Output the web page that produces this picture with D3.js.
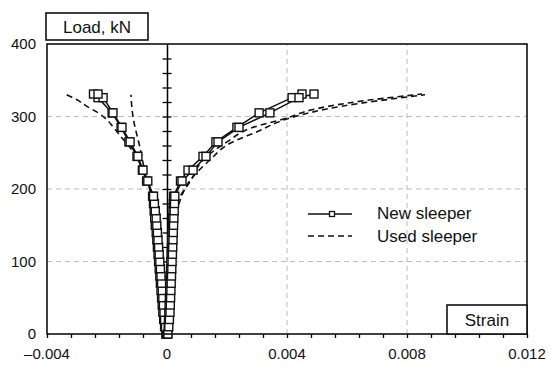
<!DOCTYPE html>
<html>
<head>
<meta charset="utf-8">
<script src="https://d3js.org/d3.v7.min.js"></script>
<style>
  html, body { margin: 0; background: #fff; }
  text { font-family: "Liberation Sans", Arial, sans-serif; fill: #111; }
</style>
</head>
<body>
<svg id="svg"></svg>
<script>
// load steps for the new sleeper gauges (kN)
const loadNew = [0,10,20,30,40,50,60,70,80,90,100,110,120,130,140,150,160,170,180,190,211,226,245,265,285,305,326,331];
const newL1 = [-0.00004,-0.00008,-0.00011,-0.00014,-0.00016,-0.00018,-0.0002,-0.00022,-0.00024,-0.00026,-0.00028,-0.0003,-0.00032,-0.00034,-0.00036,-0.00039,-0.00041,-0.00043,-0.00045,-0.00048,-0.00068,-0.00082,-0.001,-0.00127,-0.00153,-0.00183,-0.0023,-0.00245];
const newL2 = [-0.00002,-0.00005,-0.00008,-0.0001,-0.00012,-0.00014,-0.00016,-0.00018,-0.0002,-0.00022,-0.00024,-0.00026,-0.00028,-0.0003,-0.00032,-0.00034,-0.00036,-0.00039,-0.00042,-0.00045,-0.00064,-0.0008,-0.00097,-0.00123,-0.0015,-0.0018,-0.00213,-0.0023];
const newR1 = [0.00002,0.00004,0.00005,0.00006,0.00007,0.00008,0.00009,0.0001,0.00011,0.00012,0.00013,0.00014,0.00015,0.00016,0.00017,0.00018,0.00019,0.0002,0.00021,0.00022,0.00045,0.0007,0.0012,0.00163,0.00233,0.00307,0.00417,0.0045];
const newR2 = [0.00003,0.00006,0.00008,0.0001,0.00011,0.00012,0.00013,0.00014,0.00015,0.00016,0.00017,0.00018,0.00019,0.0002,0.00021,0.00022,0.00023,0.00024,0.00025,0.00026,0.0005,0.00087,0.0013,0.0017,0.0024,0.00343,0.0044,0.0049];

// used sleeper gauges
const usedL1Load = [0,50,100,150,190,226,250,274,286,298,306,313,323,331];
const usedL1 = [-0.00003,-0.00012,-0.00024,-0.00038,-0.0005,-0.0008,-0.0011,-0.00157,-0.0018,-0.00207,-0.00233,-0.00263,-0.003,-0.0034];
const usedL2Load = [0,50,100,157,199,236,257,274,292,312,330];
const usedL2 = [-0.00003,-0.00012,-0.00022,-0.0004,-0.00057,-0.0008,-0.0009,-0.001,-0.0011,-0.00117,-0.0012];
const usedR1Load = [0,50,100,150,189,212,240,265,284,298,309,319,331];
const usedR1 = [0.00002,0.00008,0.00014,0.0002,0.00043,0.0008,0.0012,0.002,0.0028,0.004,0.0048,0.0061,0.0085];
const usedR2Load = [0,50,100,150,180,212,240,263,279,298,314,330];
const usedR2 = [0.00002,0.0001,0.00017,0.00024,0.0004,0.00077,0.00143,0.0021,0.003,0.0041,0.0058,0.0086];

const xTicks = [-0.004, 0, 0.004, 0.008, 0.012];
const xTickLabels = ["\u20130.004", "0", "0.004", "0.008", "0.012"];
const yTicks = [0, 100, 200, 300, 400];
const legendNames = ["New sleeper", "Used sleeper"];

const W = 551, H = 365;
const m = {top: 44, left: 47, right: 24, bottom: 31};

const svg = d3.select("#svg").attr("width", W).attr("height", H);

const x = d3.scaleLinear().domain([-0.004, 0.012]).range([m.left, W - m.right]);
const y = d3.scaleLinear().domain([0, 400]).range([H - m.bottom, m.top]);

const zip = (loads, strains) => loads.map((l, i) => [strains[i], l]);

// grid
const grid = svg.append("g").attr("stroke", "#bbb").attr("stroke-dasharray", "5,4").attr("stroke-width", 1);
[100, 200, 300].forEach(v => grid.append("line")
  .attr("x1", x(-0.004)).attr("x2", x(0.012)).attr("y1", y(v)).attr("y2", y(v)));
[0.004, 0.008].forEach(v => grid.append("line")
  .attr("x1", x(v)).attr("x2", x(v)).attr("y1", y(0)).attr("y2", y(400)));

// centre axis with cross ticks
const cAxis = svg.append("g").attr("transform", `translate(${x(0)},0)`)
  .call(d3.axisLeft(y).tickValues(d3.range(20, 400, 20)).tickSizeInner(9).tickSizeOuter(0).tickFormat(""));
cAxis.selectAll(".tick line").attr("transform", "translate(4.5,0)").attr("stroke-width", 1.3);
cAxis.select(".domain").attr("stroke-width", 1.5);

// bottom axis
const bAxis = svg.append("g").attr("transform", `translate(0,${y(0)})`)
  .call(d3.axisBottom(x).tickValues(d3.range(-0.004, 0.0121, 0.0008)).tickSize(4).tickFormat(""));
bAxis.select(".domain").remove();
bAxis.selectAll(".tick line").attr("stroke-width", 1.3);

svg.append("g").selectAll("text").data(xTicks).join("text")
  .attr("x", d => x(d)).attr("y", 359).attr("text-anchor", "middle")
  .style("font-size", "15px").text((d, i) => xTickLabels[i]);

svg.append("g").selectAll("text").data(yTicks).join("text")
  .attr("x", 36).attr("y", d => y(d) + 5).attr("text-anchor", "end")
  .style("font-size", "15px").text(d => d);

// used sleeper (dashed)
const line = d3.line().x(d => x(d[0])).y(d => y(d[1]));
const smooth = d3.line().curve(d3.curveMonotoneY).x(d => x(d[0])).y(d => y(d[1]));
const used = [zip(usedL1Load, usedL1), zip(usedL2Load, usedL2), zip(usedR1Load, usedR1), zip(usedR2Load, usedR2)];
svg.append("g").selectAll("path").data(used).join("path")
  .attr("d", smooth).attr("fill", "none").attr("stroke", "#111")
  .attr("stroke-width", 1.6).attr("stroke-dasharray", "6,4");

// new sleeper (solid + squares)
const fresh = [zip(loadNew, newL1), zip(loadNew, newL2), zip(loadNew, newR1), zip(loadNew, newR2)];
svg.append("g").selectAll("path").data(fresh).join("path")
  .attr("d", line).attr("fill", "none").attr("stroke", "#111").attr("stroke-width", 1.5);
const ms = 8;
svg.append("g").selectAll("rect").data(fresh.flat()).join("rect")
  .attr("x", d => x(d[0]) - ms / 2).attr("y", d => y(d[1]) - ms / 2)
  .attr("width", ms).attr("height", ms)
  .attr("fill", "#fff").attr("stroke", "#111").attr("stroke-width", 1.4);

// frame
svg.append("rect").attr("x", x(-0.004)).attr("y", y(400))
  .attr("width", x(0.012) - x(-0.004)).attr("height", y(0) - y(400))
  .attr("fill", "none").attr("stroke", "#111").attr("stroke-width", 1.6);

// axis title boxes
svg.append("rect").attr("x", 46).attr("y", 13).attr("width", 102).attr("height", 27)
  .attr("fill", "#fff").attr("stroke", "#111").attr("stroke-width", 1.6);
svg.append("text").attr("x", 97).attr("y", 33).attr("text-anchor", "middle")
  .style("font-size", "17px").text("Load, kN");
svg.append("rect").attr("x", 447).attr("y", 305).attr("width", 80).attr("height", 29)
  .attr("fill", "#fff").attr("stroke", "#111").attr("stroke-width", 1.6);
svg.append("text").attr("x", 487).attr("y", 326).attr("text-anchor", "middle")
  .style("font-size", "17px").text("Strain");

// legend
const lg = svg.append("g");
lg.append("line").attr("x1", 308).attr("x2", 352).attr("y1", 214).attr("y2", 214)
  .attr("stroke", "#111").attr("stroke-width", 1.5);
lg.append("rect").attr("x", 329.5).attr("y", 211.5).attr("width", 5).attr("height", 5)
  .attr("fill", "#fff").attr("stroke", "#111").attr("stroke-width", 1.3);
lg.append("line").attr("x1", 308).attr("x2", 352).attr("y1", 236).attr("y2", 236)
  .attr("stroke", "#111").attr("stroke-width", 1.5).attr("stroke-dasharray", "6,4");
lg.selectAll("text").data(legendNames).join("text")
  .attr("x", 377).attr("y", (d, i) => 219 + i * 23)
  .style("font-size", "17px").text(d => d);
</script>
</body>
</html>
